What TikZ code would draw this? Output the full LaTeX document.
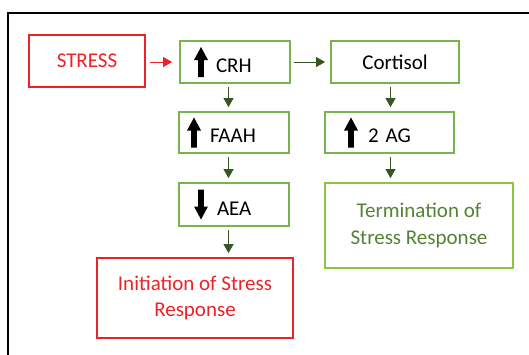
\documentclass[tikz,border=0pt]{standalone}
\usepackage{fontspec}
\setmainfont{Carlito}
\usetikzlibrary{arrows.meta}

\definecolor{stressred}{HTML}{ED2227}
\definecolor{leafgreen}{HTML}{77B34E}
\definecolor{endgreen}{HTML}{8CC63F}
\definecolor{endtext}{HTML}{548235}
\definecolor{flowgreen}{HTML}{375623}

% thick up/down marks set in front of the labels
\newcommand{\upmark}{\tikz[baseline=5pt,x=1pt,y=1pt]
  \fill (-2.8,0) -- (-2.8,17) -- (-7,17) -- (0,30) -- (7,17) -- (2.8,17) -- (2.8,0) -- cycle;}
\newcommand{\downmark}{\tikz[baseline=4pt,x=1pt,y=1pt]
  \fill (-2.8,30) -- (2.8,30) -- (2.8,13) -- (7,13) -- (0,0) -- (-7,13) -- (-2.8,13) -- cycle;}

\begin{document}
\begin{tikzpicture}
  [x=1pt,y=-1pt,
   box/.style={draw,line width=1.8pt,inner ysep=0pt,minimum height=42pt,
     font=\fontsize{21}{26.5}\selectfont},
   stressbox/.style={box,draw=stressred,text=stressred,align=center},
   plainbox/.style={box,draw=leafgreen},
   markbox/.style 2 args={box,draw=leafgreen,align=left,inner xsep=#1,text width=#2},
   endbox/.style={box,draw=endgreen,text=endtext,align=center},
   flow/.style={flowgreen,line width=0.9pt,-{Triangle[length=9pt,width=10pt]},
     shorten <=3pt,shorten >=4pt}]
  \useasboundingbox (0,0) rectangle (529,354);
  % outer frame, cut off by the page
  \draw[line width=2pt] (7.5,360) -- (7.5,13) -- (535,13);

  \node[stressbox,minimum width=116pt,minimum height=52pt] (stress) at (87,61) {STRESS};
  \node[markbox={14pt}{82pt}] (crh) at (235,62) {\upmark\hspace{8pt}CRH};
  \node[plainbox,minimum width=128pt] (cortisol) at (395,62) {Cortisol};
  \node[markbox={8pt}{94pt},minimum height=41pt] (faah) at (234,132.5) {\upmark\hspace{9pt}FAAH};
  \node[markbox={19pt}{91pt},minimum height=41pt] (ag) at (389.5,132.5) {\upmark\hspace{10pt}2 AG};
  \node[markbox={15pt}{80pt},minimum height=43pt] (aea) at (234,204.5) {\downmark\hspace{9pt}AEA};
  \node[endbox,minimum width=188pt,minimum height=85pt] (term) at (419,225.5)
    {Termination of\\Stress Response};
  \node[stressbox,minimum width=196pt,minimum height=80pt] (init) at (195,298)
    {Initiation of Stress\\Response};

  % columns of the down arrows
  \coordinate (lcol) at (228.5,0);
  \coordinate (rcol) at (390.5,0);

  \draw[flow,stressred,shorten <=4pt,shorten >=7pt] (stress.east |- crh.west) -- (crh.west);
  \draw[flow,shorten >=5pt] (crh.east) -- (cortisol.west |- crh.east);
  \draw[flow] (crh.south -| lcol) -- (faah.north -| lcol);
  \draw[flow] (faah.south -| lcol) -- (aea.north -| lcol);
  \draw[flow] (aea.south -| lcol) -- (init.north -| lcol);
  \draw[flow] (cortisol.south -| rcol) -- (ag.north -| rcol);
  \draw[flow] (ag.south -| rcol) -- (term.north -| rcol);
\end{tikzpicture}
\end{document}
